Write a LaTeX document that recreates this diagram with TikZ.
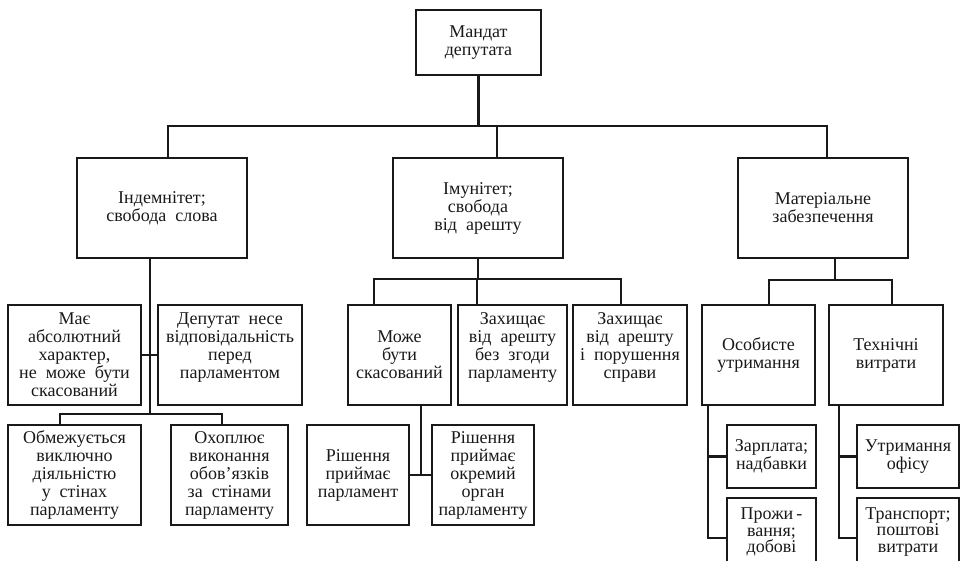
\documentclass[tikz,border=0pt]{standalone}
\usepackage{fontspec}
\setmainfont{Liberation Serif}
\begin{document}
\begin{tikzpicture}[x=1pt,y=-1pt,
  box/.style={draw=black!90, line width=1.3pt, inner sep=0pt, align=center,
    font=\fontsize{18}{18}\selectfont, text=black!90},
  tight/.style={font=\fontsize{18}{16.5}\selectfont},
  conn/.style={draw=black!90, line width=2.2pt}]
\useasboundingbox (0,0) rectangle (960,561);
\clip (0,0) rectangle (960,561);
% level 0
\node[box, minimum width=125pt, minimum height=65pt] (top) at (478.5,42.5) {Мандат\\депутата};
% level 1
\node[box, minimum width=170pt, minimum height=100pt] (ind) at (162,208) {Індемнітет;\\свобода\ \ слова};
\node[box, minimum width=170pt, minimum height=100pt] (imm) at (478,208) {Імунітет;\\свобода\\від\ \ арешту};
\node[box, minimum width=170pt, minimum height=100pt] (mat) at (823,208) {Матеріальне\\забезпечення};
% level 2 left
\node[box, minimum width=133pt, minimum height=100pt] (abs) at (74.5,355) {Має\\абсолютний\\характер,\\не\ \ може\ \ бути\\скасований};
\node[box, minimum width=144pt, minimum height=100pt] (dep) at (230,355) {Депутат\ \ несе\\відповідальність\\перед\\парламентом\\\mbox{}};
\node[box, minimum width=133pt, minimum height=100pt] (obm) at (74.5,475) {Обмежується\\виключно\\діяльністю\\у\ \ стінах\\парламенту};
\node[box, minimum width=117pt, minimum height=100pt] (oxo) at (229.5,475) {Охоплює\\виконання\\обов'язків\\за\ \ стінами\\парламенту};
% level 2 middle
\node[box, minimum width=103pt, minimum height=100pt] (mozhe) at (399.5,355) {Може\\бути\\скасований};
\node[box, minimum width=109pt, minimum height=100pt] (zakh1) at (512.5,355) {Захищає\\від\ \ арешту\\без\ \ згоди\\парламенту\\\mbox{}};
\node[box, minimum width=114pt, minimum height=100pt] (zakh2) at (630,355) {Захищає\\від\ \ арешту\\і\ \ порушення\\справи\\\mbox{}};
\node[box, minimum width=102pt, minimum height=100pt] (rish1) at (358,475) {Рішення\\приймає\\парламент};
\node[box, minimum width=102pt, minimum height=100pt] (rish2) at (483,475) {Рішення\\приймає\\окремий\\орган\\парламенту};
% level 2 right
\node[box, minimum width=113pt, minimum height=100pt] (osob) at (758.5,355) {Особисте\\утримання};
\node[box, minimum width=114pt, minimum height=100pt] (tekh) at (886,355) {Технічні\\витрати};
\node[box, minimum width=89pt, minimum height=63pt] (zarp) at (771.5,456.5) {Зарплата;\\надбавки};
\node[box, tight, minimum width=89pt, minimum height=68pt] (prozh) at (771.5,532) {Прожи\,-\\вання;\\добові};
\node[box, minimum width=102pt, minimum height=63pt] (ofis) at (908,456.5) {Утримання\\офісу};
\node[box, tight, minimum width=102pt, minimum height=68pt] (trans) at (908,532) {Транспорт;\\поштові\\витрати};
% connectors top
\coordinate (bus) at (478.5,126);
\coordinate (c1) at ([xshift=6pt]ind.north);
\coordinate (c2) at ([xshift=19pt]imm.north);
\coordinate (c3) at ([xshift=4pt]mat.north);
\draw[conn] (top.south) -- (bus);
\draw[conn] (c1) |- (bus) -| (c3);
\draw[conn] (c2) -- (c2 |- bus);
% left group
\coordinate (i1) at ([xshift=-12pt]ind.south);
\coordinate (lb) at (150,414);
\coordinate (o1) at ([xshift=-14.5pt]obm.north);
\coordinate (o2) at ([xshift=-7.5pt]oxo.north);
\draw[conn] (i1) -- (lb);
\draw[conn] (abs.east) -- (dep.west);
\draw[conn] (o1) |- (lb) -| (o2);
% middle group
\coordinate (mb) at (478,279);
\coordinate (m1) at ([xshift=-25.5pt]mozhe.north);
\coordinate (m2) at ([xshift=-35.5pt]zakh1.north);
\coordinate (m3) at ([xshift=-9pt]zakh2.north);
\coordinate (mz) at ([xshift=21.5pt]mozhe.south);
\draw[conn] (imm.south) -- (mb);
\draw[conn] (m1) |- (mb) -| (m3);
\draw[conn] (m2) -- (m2 |- mb);
\draw[conn] (mz) -- (mz |- rish1.east);
\draw[conn] (rish1.east) -- (rish2.west);
% right group
\coordinate (rb) at (835,280);
\coordinate (mt) at ([xshift=12pt]mat.south);
\coordinate (r1) at ([xshift=10.5pt]osob.north);
\coordinate (r2) at ([xshift=6pt]tekh.north);
\coordinate (os) at ([xshift=-50.5pt]osob.south);
\coordinate (ts) at ([xshift=-47pt]tekh.south);
\coordinate (pw) at ([yshift=-6pt]prozh.west);
\coordinate (tw) at ([yshift=-6pt]trans.west);
\draw[conn] (mt) -- (rb);
\draw[conn] (r1) |- (rb) -| (r2);
\draw[conn] (os) |- (pw);
\draw[conn] (os |- zarp.west) -- (zarp.west);
\draw[conn] (ts) |- (tw);
\draw[conn] (ts |- ofis.west) -- (ofis.west);
\end{tikzpicture}
\end{document}
